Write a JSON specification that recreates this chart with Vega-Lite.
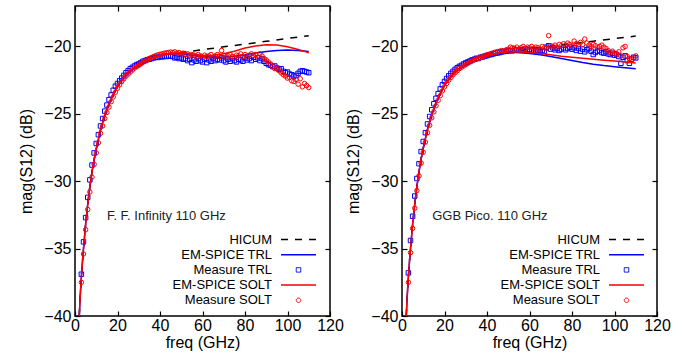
{
  "$schema": "https://vega.github.io/schema/vega-lite/v6.json",
  "padding": {"left": 18, "top": 4, "right": 0, "bottom": 0},
  "background": "white",
  "config": {
    "font": "Liberation Sans",
    "view": {"stroke": "black", "strokeWidth": 1.5},
    "axis": {
      "domain": false, "grid": false, "tickColor": "black", "tickSize": -5, "tickWidth": 1.2,
      "labelFont": "Liberation Sans", "labelFontSize": 16, "labelColor": "black",
      "titleFont": "Liberation Sans", "titleFontSize": 16, "titleFontWeight": "normal", "titleColor": "black"
    },
    "concat": {"spacing": 0}
  },
  "datasets": {
    "L_HICUM": [{"f":2,"v":-40},{"f":2.5,"v":-38.4},{"f":3,"v":-37.1},{"f":3.5,"v":-36},{"f":4,"v":-35},{"f":5,"v":-33.2},{"f":6,"v":-31.7},{"f":7,"v":-30.4},{"f":8,"v":-29.3},{"f":9,"v":-28.4},{"f":10,"v":-27.6},{"f":12,"v":-26.2},{"f":14,"v":-25.1},{"f":16,"v":-24.25},{"f":18,"v":-23.55},{"f":20,"v":-22.95},{"f":22,"v":-22.5},{"f":25,"v":-21.95},{"f":28,"v":-21.55},{"f":30,"v":-21.35},{"f":33,"v":-21.05},{"f":36,"v":-20.85},{"f":40,"v":-20.65},{"f":45,"v":-20.5},{"f":50,"v":-20.45},{"f":60,"v":-20.24},{"f":70,"v":-20.03},{"f":80,"v":-19.83},{"f":90,"v":-19.62},{"f":100,"v":-19.41},{"f":110,"v":-19.2}],
    "L_EMTRL": [{"f":2,"v":-40},{"f":2.5,"v":-38.4},{"f":3,"v":-37.1},{"f":3.5,"v":-36},{"f":4,"v":-35},{"f":5,"v":-33.2},{"f":6,"v":-31.7},{"f":7,"v":-30.4},{"f":8,"v":-29.3},{"f":9,"v":-28.4},{"f":10,"v":-27.6},{"f":12,"v":-26.2},{"f":14,"v":-25.1},{"f":16,"v":-24.25},{"f":18,"v":-23.55},{"f":20,"v":-22.95},{"f":22,"v":-22.5},{"f":25,"v":-21.95},{"f":28,"v":-21.55},{"f":30,"v":-21.35},{"f":33,"v":-21.05},{"f":36,"v":-20.85},{"f":40,"v":-20.65},{"f":45,"v":-20.52},{"f":50,"v":-20.55},{"f":55,"v":-20.65},{"f":60,"v":-20.75},{"f":65,"v":-20.8},{"f":70,"v":-20.78},{"f":75,"v":-20.72},{"f":80,"v":-20.62},{"f":85,"v":-20.48},{"f":90,"v":-20.38},{"f":95,"v":-20.3},{"f":100,"v":-20.27},{"f":105,"v":-20.3},{"f":110,"v":-20.38}],
    "L_EMSOLT": [{"f":2,"v":-40},{"f":2.5,"v":-38.4},{"f":3,"v":-37.1},{"f":3.5,"v":-36},{"f":4,"v":-35},{"f":5,"v":-33.2},{"f":6,"v":-31.7},{"f":7,"v":-30.4},{"f":8,"v":-29.3},{"f":9,"v":-28.4},{"f":10,"v":-27.6},{"f":12,"v":-26.2},{"f":14,"v":-25.1},{"f":16,"v":-24.25},{"f":18,"v":-23.55},{"f":20,"v":-22.95},{"f":22,"v":-22.5},{"f":25,"v":-21.95},{"f":28,"v":-21.55},{"f":30,"v":-21.35},{"f":33,"v":-21.05},{"f":36,"v":-20.85},{"f":40,"v":-20.65},{"f":45,"v":-20.5},{"f":50,"v":-20.47},{"f":55,"v":-20.55},{"f":60,"v":-20.68},{"f":65,"v":-20.66},{"f":70,"v":-20.55},{"f":75,"v":-20.35},{"f":80,"v":-20.12},{"f":85,"v":-19.97},{"f":90,"v":-19.88},{"f":95,"v":-19.9},{"f":100,"v":-20.02},{"f":105,"v":-20.22},{"f":110,"v":-20.47}],
    "L_MTRL": [{"f":3,"v":-36.9},{"f":4,"v":-34.5},{"f":5,"v":-32.7},{"f":6,"v":-31.2},{"f":7,"v":-29.9},{"f":8,"v":-28.8},{"f":9,"v":-27.9},{"f":10,"v":-27.2},{"f":11,"v":-26.55},{"f":12,"v":-25.9},{"f":13,"v":-25.35},{"f":14,"v":-24.8},{"f":15,"v":-24.35},{"f":16,"v":-23.95},{"f":17,"v":-23.6},{"f":18,"v":-23.25},{"f":19,"v":-22.95},{"f":20,"v":-22.75},{"f":21,"v":-22.55},{"f":22,"v":-22.35},{"f":23,"v":-22.15},{"f":24,"v":-21.95},{"f":25,"v":-21.8},{"f":26,"v":-21.65},{"f":27,"v":-21.55},{"f":28,"v":-21.45},{"f":29,"v":-21.35},{"f":30,"v":-21.3},{"f":31,"v":-21.2},{"f":32,"v":-21.1},{"f":33,"v":-21.05},{"f":34,"v":-20.98},{"f":35,"v":-20.95},{"f":36,"v":-20.9},{"f":37,"v":-20.85},{"f":38,"v":-20.8},{"f":39,"v":-20.82},{"f":40,"v":-20.75},{"f":41,"v":-20.78},{"f":42,"v":-20.72},{"f":43,"v":-20.75},{"f":44,"v":-20.7},{"f":45,"v":-20.72},{"f":46,"v":-20.75},{"f":47,"v":-20.85},{"f":48,"v":-20.8},{"f":49,"v":-20.9},{"f":50,"v":-20.85},{"f":51,"v":-20.95},{"f":52,"v":-20.9},{"f":53,"v":-21.05},{"f":54,"v":-20.95},{"f":55,"v":-21.2},{"f":56,"v":-21.0},{"f":57,"v":-21.1},{"f":58,"v":-20.9},{"f":59,"v":-21.05},{"f":60,"v":-21.15},{"f":61,"v":-20.95},{"f":62,"v":-21.2},{"f":63,"v":-21.0},{"f":64,"v":-21.1},{"f":65,"v":-20.9},{"f":66,"v":-21.05},{"f":67,"v":-20.95},{"f":68,"v":-21.0},{"f":69,"v":-20.85},{"f":70,"v":-21.05},{"f":71,"v":-21.15},{"f":72,"v":-20.95},{"f":73,"v":-21.1},{"f":74,"v":-20.9},{"f":75,"v":-21.05},{"f":76,"v":-21.15},{"f":77,"v":-20.95},{"f":78,"v":-21.0},{"f":79,"v":-21.1},{"f":80,"v":-20.85},{"f":81,"v":-21.0},{"f":82,"v":-20.9},{"f":83,"v":-21.05},{"f":84,"v":-20.8},{"f":85,"v":-20.95},{"f":86,"v":-20.85},{"f":87,"v":-21.05},{"f":88,"v":-20.9},{"f":89,"v":-21.1},{"f":90,"v":-21.25},{"f":91,"v":-21.35},{"f":92,"v":-21.4},{"f":93,"v":-21.5},{"f":94,"v":-21.45},{"f":95,"v":-21.6},{"f":96,"v":-21.7},{"f":97,"v":-21.65},{"f":98,"v":-21.85},{"f":99,"v":-21.95},{"f":100,"v":-21.9},{"f":101,"v":-22.05},{"f":102,"v":-22.1},{"f":103,"v":-22.2},{"f":104,"v":-22.15},{"f":105,"v":-22.0},{"f":106,"v":-21.85},{"f":107,"v":-21.8},{"f":108,"v":-21.85},{"f":109,"v":-21.9},{"f":110,"v":-21.95}],
    "L_MSOLT": [{"f":3,"v":-37.5},{"f":4,"v":-35.4},{"f":5,"v":-33.6},{"f":6,"v":-32.1},{"f":7,"v":-30.8},{"f":8,"v":-29.7},{"f":9,"v":-28.75},{"f":10,"v":-27.9},{"f":11,"v":-27.15},{"f":12,"v":-26.45},{"f":13,"v":-25.9},{"f":14,"v":-25.35},{"f":15,"v":-24.9},{"f":16,"v":-24.5},{"f":17,"v":-24.1},{"f":18,"v":-23.75},{"f":19,"v":-23.4},{"f":20,"v":-23.1},{"f":21,"v":-22.85},{"f":22,"v":-22.6},{"f":23,"v":-22.4},{"f":24,"v":-22.2},{"f":25,"v":-22.05},{"f":26,"v":-21.9},{"f":27,"v":-21.75},{"f":28,"v":-21.6},{"f":29,"v":-21.5},{"f":30,"v":-21.4},{"f":31,"v":-21.28},{"f":32,"v":-21.18},{"f":33,"v":-21.08},{"f":34,"v":-21.0},{"f":35,"v":-20.9},{"f":36,"v":-20.82},{"f":37,"v":-20.75},{"f":38,"v":-20.68},{"f":39,"v":-20.62},{"f":40,"v":-20.58},{"f":41,"v":-20.55},{"f":42,"v":-20.5},{"f":43,"v":-20.48},{"f":44,"v":-20.45},{"f":45,"v":-20.42},{"f":46,"v":-20.45},{"f":47,"v":-20.4},{"f":48,"v":-20.5},{"f":49,"v":-20.45},{"f":50,"v":-20.55},{"f":51,"v":-20.5},{"f":52,"v":-20.6},{"f":53,"v":-20.55},{"f":54,"v":-20.7},{"f":55,"v":-20.6},{"f":56,"v":-20.65},{"f":57,"v":-20.75},{"f":58,"v":-20.6},{"f":59,"v":-20.7},{"f":60,"v":-20.8},{"f":61,"v":-20.65},{"f":62,"v":-20.75},{"f":63,"v":-20.7},{"f":64,"v":-20.6},{"f":65,"v":-20.8},{"f":66,"v":-20.7},{"f":67,"v":-20.6},{"f":68,"v":-20.75},{"f":69,"v":-20.3},{"f":70,"v":-20.65},{"f":71,"v":-20.8},{"f":72,"v":-20.7},{"f":73,"v":-20.6},{"f":74,"v":-20.75},{"f":75,"v":-20.85},{"f":76,"v":-20.65},{"f":77,"v":-20.7},{"f":78,"v":-20.55},{"f":79,"v":-20.75},{"f":80,"v":-20.6},{"f":81,"v":-20.8},{"f":82,"v":-20.65},{"f":83,"v":-20.55},{"f":84,"v":-20.7},{"f":85,"v":-20.6},{"f":86,"v":-20.8},{"f":87,"v":-20.55},{"f":88,"v":-20.7},{"f":89,"v":-20.9},{"f":90,"v":-21.0},{"f":91,"v":-21.15},{"f":92,"v":-21.3},{"f":93,"v":-21.5},{"f":94,"v":-21.65},{"f":95,"v":-21.6},{"f":96,"v":-21.8},{"f":97,"v":-21.95},{"f":98,"v":-22.1},{"f":99,"v":-22.2},{"f":100,"v":-22.35},{"f":101,"v":-22.3},{"f":102,"v":-22.55},{"f":103,"v":-22.6},{"f":104,"v":-22.45},{"f":105,"v":-22.8},{"f":106,"v":-22.4},{"f":107,"v":-23.0},{"f":108,"v":-22.75},{"f":109,"v":-22.9},{"f":110,"v":-23.05}],
    "R_HICUM": [{"f":2,"v":-40},{"f":2.5,"v":-38.4},{"f":3,"v":-37.1},{"f":3.5,"v":-36},{"f":4,"v":-35},{"f":5,"v":-33.2},{"f":6,"v":-31.7},{"f":7,"v":-30.4},{"f":8,"v":-29.3},{"f":9,"v":-28.35},{"f":10,"v":-27.55},{"f":12,"v":-26.15},{"f":14,"v":-25.05},{"f":16,"v":-24.2},{"f":18,"v":-23.5},{"f":20,"v":-22.9},{"f":22,"v":-22.45},{"f":25,"v":-21.9},{"f":28,"v":-21.5},{"f":30,"v":-21.3},{"f":33,"v":-21.0},{"f":36,"v":-20.82},{"f":40,"v":-20.63},{"f":45,"v":-20.5},{"f":50,"v":-20.4},{"f":55,"v":-20.3},{"f":60,"v":-20.17},{"f":70,"v":-19.98},{"f":80,"v":-19.79},{"f":90,"v":-19.61},{"f":100,"v":-19.42},{"f":110,"v":-19.23}],
    "R_EMTRL": [{"f":2,"v":-40},{"f":2.5,"v":-38.4},{"f":3,"v":-37.1},{"f":3.5,"v":-36},{"f":4,"v":-35},{"f":5,"v":-33.2},{"f":6,"v":-31.7},{"f":7,"v":-30.4},{"f":8,"v":-29.3},{"f":9,"v":-28.35},{"f":10,"v":-27.55},{"f":12,"v":-26.15},{"f":14,"v":-25.05},{"f":16,"v":-24.2},{"f":18,"v":-23.5},{"f":20,"v":-22.9},{"f":22,"v":-22.45},{"f":25,"v":-21.9},{"f":28,"v":-21.5},{"f":30,"v":-21.3},{"f":33,"v":-21.0},{"f":36,"v":-20.82},{"f":40,"v":-20.63},{"f":45,"v":-20.5},{"f":50,"v":-20.45},{"f":55,"v":-20.45},{"f":60,"v":-20.52},{"f":65,"v":-20.62},{"f":70,"v":-20.75},{"f":75,"v":-20.9},{"f":80,"v":-21.05},{"f":85,"v":-21.2},{"f":90,"v":-21.32},{"f":95,"v":-21.42},{"f":100,"v":-21.5},{"f":105,"v":-21.58},{"f":110,"v":-21.65}],
    "R_EMSOLT": [{"f":2,"v":-40},{"f":2.5,"v":-38.4},{"f":3,"v":-37.1},{"f":3.5,"v":-36},{"f":4,"v":-35},{"f":5,"v":-33.2},{"f":6,"v":-31.7},{"f":7,"v":-30.4},{"f":8,"v":-29.3},{"f":9,"v":-28.35},{"f":10,"v":-27.55},{"f":12,"v":-26.15},{"f":14,"v":-25.05},{"f":16,"v":-24.2},{"f":18,"v":-23.5},{"f":20,"v":-22.9},{"f":22,"v":-22.45},{"f":25,"v":-21.9},{"f":28,"v":-21.5},{"f":30,"v":-21.3},{"f":33,"v":-21.0},{"f":36,"v":-20.82},{"f":40,"v":-20.63},{"f":45,"v":-20.5},{"f":50,"v":-20.42},{"f":55,"v":-20.4},{"f":60,"v":-20.45},{"f":65,"v":-20.53},{"f":70,"v":-20.62},{"f":75,"v":-20.72},{"f":80,"v":-20.8},{"f":85,"v":-20.87},{"f":90,"v":-20.95},{"f":95,"v":-21.02},{"f":100,"v":-21.08},{"f":105,"v":-21.15},{"f":110,"v":-21.22}],
    "R_MTRL": [{"f":3,"v":-36.8},{"f":4,"v":-34.4},{"f":5,"v":-32.6},{"f":6,"v":-31.1},{"f":7,"v":-29.8},{"f":8,"v":-28.7},{"f":9,"v":-27.8},{"f":10,"v":-27.05},{"f":11,"v":-26.4},{"f":12,"v":-25.75},{"f":13,"v":-25.2},{"f":14,"v":-24.7},{"f":15,"v":-24.25},{"f":16,"v":-23.85},{"f":17,"v":-23.5},{"f":18,"v":-23.15},{"f":19,"v":-22.85},{"f":20,"v":-22.6},{"f":21,"v":-22.38},{"f":22,"v":-22.18},{"f":23,"v":-22.0},{"f":24,"v":-21.85},{"f":25,"v":-21.7},{"f":26,"v":-21.58},{"f":27,"v":-21.48},{"f":28,"v":-21.4},{"f":29,"v":-21.3},{"f":30,"v":-21.22},{"f":31,"v":-21.15},{"f":32,"v":-21.08},{"f":33,"v":-21.0},{"f":34,"v":-20.95},{"f":35,"v":-20.88},{"f":36,"v":-20.9},{"f":37,"v":-20.8},{"f":38,"v":-20.78},{"f":39,"v":-20.72},{"f":40,"v":-20.68},{"f":41,"v":-20.62},{"f":42,"v":-20.6},{"f":43,"v":-20.55},{"f":44,"v":-20.5},{"f":45,"v":-20.48},{"f":46,"v":-20.45},{"f":47,"v":-20.4},{"f":48,"v":-20.38},{"f":49,"v":-20.35},{"f":50,"v":-20.33},{"f":51,"v":-20.3},{"f":52,"v":-20.32},{"f":53,"v":-20.28},{"f":54,"v":-20.25},{"f":55,"v":-20.3},{"f":56,"v":-20.25},{"f":57,"v":-20.3},{"f":58,"v":-20.2},{"f":59,"v":-20.28},{"f":60,"v":-20.22},{"f":61,"v":-20.3},{"f":62,"v":-20.25},{"f":63,"v":-20.35},{"f":64,"v":-20.28},{"f":65,"v":-20.4},{"f":66,"v":-20.3},{"f":67,"v":-20.35},{"f":68,"v":-20.05},{"f":69,"v":-19.95},{"f":70,"v":-20.2},{"f":71,"v":-20.1},{"f":72,"v":-20.25},{"f":73,"v":-20.15},{"f":74,"v":-20.3},{"f":75,"v":-20.2},{"f":76,"v":-20.1},{"f":77,"v":-20.25},{"f":78,"v":-20.15},{"f":79,"v":-20.05},{"f":80,"v":-20.2},{"f":81,"v":-20.1},{"f":82,"v":-20.3},{"f":83,"v":-20.15},{"f":84,"v":-20.35},{"f":85,"v":-20.2},{"f":86,"v":-20.4},{"f":87,"v":-20.25},{"f":88,"v":-20.15},{"f":89,"v":-20.35},{"f":90,"v":-20.6},{"f":91,"v":-20.45},{"f":92,"v":-20.35},{"f":93,"v":-20.3},{"f":94,"v":-20.45},{"f":95,"v":-20.5},{"f":96,"v":-20.4},{"f":97,"v":-20.55},{"f":98,"v":-20.6},{"f":99,"v":-20.5},{"f":100,"v":-20.65},{"f":101,"v":-20.6},{"f":102,"v":-20.75},{"f":103,"v":-21.25},{"f":104,"v":-20.8},{"f":105,"v":-20.7},{"f":106,"v":-21.05},{"f":107,"v":-21.25},{"f":108,"v":-20.95},{"f":109,"v":-20.8},{"f":110,"v":-20.85}],
    "R_MSOLT": [{"f":3,"v":-37.5},{"f":4,"v":-35.3},{"f":5,"v":-33.5},{"f":6,"v":-32.0},{"f":7,"v":-30.7},{"f":8,"v":-29.6},{"f":9,"v":-28.65},{"f":10,"v":-27.85},{"f":11,"v":-27.1},{"f":12,"v":-26.4},{"f":13,"v":-25.85},{"f":14,"v":-25.3},{"f":15,"v":-24.85},{"f":16,"v":-24.4},{"f":17,"v":-24.0},{"f":18,"v":-23.65},{"f":19,"v":-23.3},{"f":20,"v":-23.0},{"f":21,"v":-22.75},{"f":22,"v":-22.5},{"f":23,"v":-22.3},{"f":24,"v":-22.1},{"f":25,"v":-21.95},{"f":26,"v":-21.8},{"f":27,"v":-21.65},{"f":28,"v":-21.55},{"f":29,"v":-21.45},{"f":30,"v":-21.35},{"f":31,"v":-21.25},{"f":32,"v":-21.15},{"f":33,"v":-21.08},{"f":34,"v":-21.0},{"f":35,"v":-20.95},{"f":36,"v":-20.88},{"f":37,"v":-20.82},{"f":38,"v":-20.75},{"f":39,"v":-20.68},{"f":40,"v":-20.62},{"f":41,"v":-20.58},{"f":42,"v":-20.52},{"f":43,"v":-20.48},{"f":44,"v":-20.42},{"f":45,"v":-20.38},{"f":46,"v":-20.35},{"f":47,"v":-20.3},{"f":48,"v":-20.35},{"f":49,"v":-20.25},{"f":50,"v":-20.2},{"f":51,"v":-20.05},{"f":52,"v":-20.1},{"f":53,"v":-20.15},{"f":54,"v":-20.05},{"f":55,"v":-20.2},{"f":56,"v":-20.1},{"f":57,"v":-20.0},{"f":58,"v":-20.15},{"f":59,"v":-20.05},{"f":60,"v":-20.1},{"f":61,"v":-20.0},{"f":62,"v":-20.15},{"f":63,"v":-20.05},{"f":64,"v":-20.1},{"f":65,"v":-20.2},{"f":66,"v":-20.0},{"f":67,"v":-20.1},{"f":68,"v":-20.15},{"f":69,"v":-19.2},{"f":70,"v":-19.95},{"f":71,"v":-20.0},{"f":72,"v":-19.9},{"f":73,"v":-20.05},{"f":74,"v":-19.85},{"f":75,"v":-19.95},{"f":76,"v":-19.8},{"f":77,"v":-19.9},{"f":78,"v":-19.75},{"f":79,"v":-19.85},{"f":80,"v":-19.95},{"f":81,"v":-19.6},{"f":82,"v":-19.8},{"f":83,"v":-19.9},{"f":84,"v":-19.7},{"f":85,"v":-19.85},{"f":86,"v":-19.45},{"f":87,"v":-19.75},{"f":88,"v":-19.9},{"f":89,"v":-20.0},{"f":90,"v":-19.85},{"f":91,"v":-19.95},{"f":92,"v":-20.1},{"f":93,"v":-20.0},{"f":94,"v":-19.9},{"f":95,"v":-20.05},{"f":96,"v":-20.15},{"f":97,"v":-20.3},{"f":98,"v":-20.45},{"f":99,"v":-20.35},{"f":100,"v":-20.5},{"f":101,"v":-20.55},{"f":102,"v":-20.4},{"f":103,"v":-20.7},{"f":104,"v":-20.1},{"f":105,"v":-20.0},{"f":106,"v":-20.75},{"f":107,"v":-20.9},{"f":108,"v":-21.0},{"f":109,"v":-20.85},{"f":110,"v":-20.7}]
  },
  "resolve": {"scale": {"color": "independent"}, "legend": {"color": "independent"}},
  "hconcat": [
    {
      "width": 255, "height": 310,
      "resolve": {"axis": {"x": "independent", "y": "independent"}},
      "layer": [
        {
          "data": {"name": "L_HICUM"},
          "mark": {"type": "line", "strokeDash": [7, 7], "strokeWidth": 1.5, "clip": true},
          "encoding": {
            "x": {"field": "f", "type": "quantitative", "scale": {"domain": [0, 120], "nice": false, "zero": false},
                  "axis": {"orient": "bottom", "values": [0, 20, 40, 60, 80, 100, 120], "title": "freq (GHz)", "labelPadding": 6, "titlePadding": 1, "labelFlush": false}},
            "y": {"field": "v", "type": "quantitative", "scale": {"domain": [-40, -17], "nice": false, "zero": false},
                  "axis": {"orient": "left", "values": [-40, -35, -30, -25, -20], "title": "mag(S12) (dB)", "labelPadding": 9, "titlePadding": 9, "labelFlush": false}},
            "color": {"datum": "HICUM", "type": "nominal",
                      "scale": {"domain": ["HICUM", "EM-SPICE TRL", "Measure TRL", "EM-SPICE SOLT", "Measure SOLT"], "range": ["#000000", "#0000ff", "#0000ff", "#ff0000", "#ff0000"]},
                      "legend": {"title": null, "orient": "none", "legendX": 202, "legendY": 227, "padding": 0,
                                 "labelAlign": "right", "labelOffset": -33, "labelFont": "Liberation Sans", "labelFontSize": 13, "labelColor": "black",
                                 "symbolSize": 25, "symbolOffset": 15, "rowPadding": 1.2, "symbolType": "stroke",
                                 "encode": {"symbols": {"update": {
                                   "shape": {"signal": "datum.value == 'Measure TRL' ? 'square' : (datum.value == 'Measure SOLT' ? 'circle' : 'stroke')"},
                                   "size": {"signal": "datum.value == 'Measure TRL' ? 20 : (datum.value == 'Measure SOLT' ? 20 : 1225)"},
                                   "strokeDash": {"signal": "datum.value == 'HICUM' ? [7, 7] : [1, 0]"},
                                   "strokeWidth": {"signal": "(datum.value == 'Measure TRL' || datum.value == 'Measure SOLT') ? 1 : 1.5"},
                                   "fill": {"value": "transparent"}
                                 }}}}}
          }
        },
        {
          "data": {"name": "L_EMTRL"},
          "mark": {"type": "line", "strokeWidth": 1.5, "clip": true},
          "encoding": {
            "x": {"field": "f", "type": "quantitative", "axis": {"orient": "top", "values": [0, 20, 40, 60, 80, 100, 120], "labels": false, "title": null}},
            "y": {"field": "v", "type": "quantitative", "axis": {"orient": "right", "values": [-40, -35, -30, -25, -20], "labels": false, "title": null}},
            "color": {"datum": "EM-SPICE TRL", "type": "nominal"}
          }
        },
        {
          "data": {"name": "L_MTRL"},
          "mark": {"type": "point", "shape": "square", "size": 20, "strokeWidth": 1, "filled": false, "opacity": 1, "clip": true},
          "encoding": {
            "x": {"field": "f", "type": "quantitative", "axis": null},
            "y": {"field": "v", "type": "quantitative", "axis": null},
            "color": {"datum": "Measure TRL", "type": "nominal"}
          }
        },
        {
          "data": {"name": "L_EMSOLT"},
          "mark": {"type": "line", "strokeWidth": 1.5, "clip": true},
          "encoding": {
            "x": {"field": "f", "type": "quantitative", "axis": null},
            "y": {"field": "v", "type": "quantitative", "axis": null},
            "color": {"datum": "EM-SPICE SOLT", "type": "nominal"}
          }
        },
        {
          "data": {"name": "L_MSOLT"},
          "mark": {"type": "point", "shape": "circle", "size": 20, "strokeWidth": 1, "filled": false, "opacity": 1, "clip": true},
          "encoding": {
            "x": {"field": "f", "type": "quantitative", "axis": null},
            "y": {"field": "v", "type": "quantitative", "axis": null},
            "color": {"datum": "Measure SOLT", "type": "nominal"}
          }
        },
        {
          "data": {"values": [{}]},
          "mark": {"type": "text", "align": "left", "baseline": "middle", "fontSize": 13, "font": "Liberation Sans", "color": "#222222"},
          "encoding": {
            "x": {"datum": 15, "type": "quantitative", "axis": null},
            "y": {"datum": -32.58, "type": "quantitative", "axis": null},
            "text": {"value": "F. F. Infinity 110 GHz"}
          }
        }
      ]
    },
    {
      "width": 255, "height": 310,
      "resolve": {"axis": {"x": "independent", "y": "independent"}},
      "layer": [
        {
          "data": {"name": "R_HICUM"},
          "mark": {"type": "line", "strokeDash": [7, 7], "strokeWidth": 1.5, "clip": true},
          "encoding": {
            "x": {"field": "f", "type": "quantitative", "scale": {"domain": [0, 120], "nice": false, "zero": false},
                  "axis": {"orient": "bottom", "values": [0, 20, 40, 60, 80, 100, 120], "title": "freq (GHz)", "labelPadding": 6, "titlePadding": 1, "labelFlush": false}},
            "y": {"field": "v", "type": "quantitative", "scale": {"domain": [-40, -17], "nice": false, "zero": false},
                  "axis": {"orient": "left", "values": [-40, -35, -30, -25, -20], "title": "mag(S12) (dB)", "labelPadding": 9, "titlePadding": 9, "labelFlush": false}},
            "color": {"datum": "HICUM", "type": "nominal",
                      "scale": {"domain": ["HICUM", "EM-SPICE TRL", "Measure TRL", "EM-SPICE SOLT", "Measure SOLT"], "range": ["#000000", "#0000ff", "#0000ff", "#ff0000", "#ff0000"]},
                      "legend": {"title": null, "orient": "none", "legendX": 203, "legendY": 227, "padding": 0,
                                 "labelAlign": "right", "labelOffset": -33, "labelFont": "Liberation Sans", "labelFontSize": 13, "labelColor": "black",
                                 "symbolSize": 25, "symbolOffset": 15, "rowPadding": 1.2, "symbolType": "stroke",
                                 "encode": {"symbols": {"update": {
                                   "shape": {"signal": "datum.value == 'Measure TRL' ? 'square' : (datum.value == 'Measure SOLT' ? 'circle' : 'stroke')"},
                                   "size": {"signal": "datum.value == 'Measure TRL' ? 20 : (datum.value == 'Measure SOLT' ? 20 : 1225)"},
                                   "strokeDash": {"signal": "datum.value == 'HICUM' ? [7, 7] : [1, 0]"},
                                   "strokeWidth": {"signal": "(datum.value == 'Measure TRL' || datum.value == 'Measure SOLT') ? 1 : 1.5"},
                                   "fill": {"value": "transparent"}
                                 }}}}}
          }
        },
        {
          "data": {"name": "R_EMTRL"},
          "mark": {"type": "line", "strokeWidth": 1.5, "clip": true},
          "encoding": {
            "x": {"field": "f", "type": "quantitative", "axis": {"orient": "top", "values": [0, 20, 40, 60, 80, 100, 120], "labels": false, "title": null}},
            "y": {"field": "v", "type": "quantitative", "axis": {"orient": "right", "values": [-40, -35, -30, -25, -20], "labels": false, "title": null}},
            "color": {"datum": "EM-SPICE TRL", "type": "nominal"}
          }
        },
        {
          "data": {"name": "R_MTRL"},
          "mark": {"type": "point", "shape": "square", "size": 20, "strokeWidth": 1, "filled": false, "opacity": 1, "clip": true},
          "encoding": {
            "x": {"field": "f", "type": "quantitative", "axis": null},
            "y": {"field": "v", "type": "quantitative", "axis": null},
            "color": {"datum": "Measure TRL", "type": "nominal"}
          }
        },
        {
          "data": {"name": "R_EMSOLT"},
          "mark": {"type": "line", "strokeWidth": 1.5, "clip": true},
          "encoding": {
            "x": {"field": "f", "type": "quantitative", "axis": null},
            "y": {"field": "v", "type": "quantitative", "axis": null},
            "color": {"datum": "EM-SPICE SOLT", "type": "nominal"}
          }
        },
        {
          "data": {"name": "R_MSOLT"},
          "mark": {"type": "point", "shape": "circle", "size": 20, "strokeWidth": 1, "filled": false, "opacity": 1, "clip": true},
          "encoding": {
            "x": {"field": "f", "type": "quantitative", "axis": null},
            "y": {"field": "v", "type": "quantitative", "axis": null},
            "color": {"datum": "Measure SOLT", "type": "nominal"}
          }
        },
        {
          "data": {"values": [{}]},
          "mark": {"type": "text", "align": "left", "baseline": "middle", "fontSize": 13, "font": "Liberation Sans", "color": "#222222"},
          "encoding": {
            "x": {"datum": 14.2, "type": "quantitative", "axis": null},
            "y": {"datum": -32.58, "type": "quantitative", "axis": null},
            "text": {"value": "GGB Pico. 110 GHz"}
          }
        }
      ]
    }
  ]
}
